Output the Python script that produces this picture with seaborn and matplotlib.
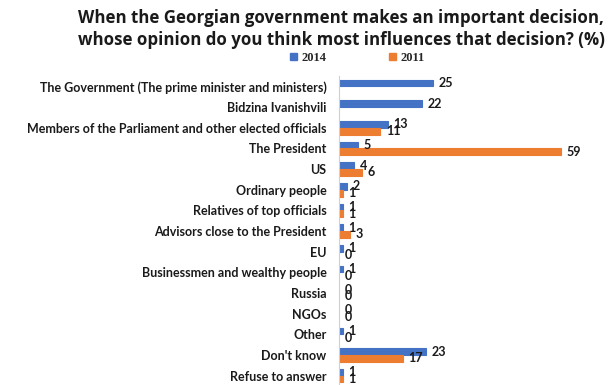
import matplotlib
matplotlib.use("Agg")
import matplotlib.pyplot as plt
import seaborn as sns
import pandas as pd
import numpy as np
from matplotlib.patches import Patch

categories = [
    "The Government (The prime minister and ministers)",
    "Bidzina Ivanishvili",
    "Members of the Parliament and other elected officials",
    "The President",
    "US",
    "Ordinary people",
    "Relatives of top officials",
    "Advisors close to the President",
    "EU",
    "Businessmen and wealthy people",
    "Russia",
    "NGOs",
    "Other",
    "Don't know",
    "Refuse to answer",
]
values_2014 = [25, 22, 13, 5, 4, 2, 1, 1, 1, 1, 0, 0, 1, 23, 1]
values_2011 = [np.nan, np.nan, 11, 59, 6, 1, 1, 3, 0, 0, 0, 0, 0, 17, 1]
years = ["2014", "2011"]
colors = ["#4472C4", "#ED7D31"]

df = pd.DataFrame({
    "category": categories * 2,
    "year": [years[0]] * len(categories) + [years[1]] * len(categories),
    "value": values_2014 + values_2011,
})

sns.set_style("white")
plt.rcParams["font.family"] = ["Lato", "DejaVu Sans"]

fig = plt.figure(figsize=(6.08, 3.85), dpi=100)
ax = fig.add_axes([0.5576, -0.0026, 0.4332, 0.805])

sns.barplot(
    data=df, y="category", x="value", hue="year",
    order=categories, hue_order=years, palette=colors,
    orient="h", width=0.66, dodge=True, errorbar=None,
    linewidth=0.8, saturation=1, ax=ax, legend=False,
)
for container, col in zip(ax.containers, colors):
    for bar in container:
        bar.set_edgecolor(col)
        if bar.get_width() == 0:
            bar.set_linewidth(1.2)
            bar.set_alpha(0.5)
    ax.bar_label(container, fmt="{:.0f}", padding=4,
                 fontsize=9, fontweight="bold", color="#1a1a1a")

ax.set_xlim(0, 70)
ax.set_ylim(len(categories) - 0.5, -0.5)
ax.set_xlabel("")
ax.set_ylabel("")
ax.set_xticks([])
ax.tick_params(axis="y", length=0, pad=9)
for lbl in ax.get_yticklabels():
    lbl.set_fontsize(9)
    lbl.set_fontweight("bold")
    lbl.set_color("#1a1a1a")
for side in ["top", "right", "bottom"]:
    ax.spines[side].set_visible(False)
ax.spines["left"].set_color("#d0d0d0")
ax.spines["left"].set_linewidth(0.8)

fig.text(0.561, 0.925,
         "When the Georgian government makes an important decision,\n"
         "whose opinion do you think most influences that decision? (%)",
         ha="center", va="center", fontsize=12.2, fontweight="bold",
         family=["Open Sans", "DejaVu Sans"], color="#1a1a1a", linespacing=1.28)

handles = [Patch(facecolor=c, edgecolor=c) for c in colors]
fig.legend(handles, years, loc="center", bbox_to_anchor=(0.588, 0.850),
           ncol=2, frameon=False, handlelength=0.55, handleheight=0.55,
           handletextpad=0.35, columnspacing=5.0,
           prop={"family": ["Liberation Serif"], "size": 9, "weight": "bold"})

fig.savefig("out.png", dpi=100)
